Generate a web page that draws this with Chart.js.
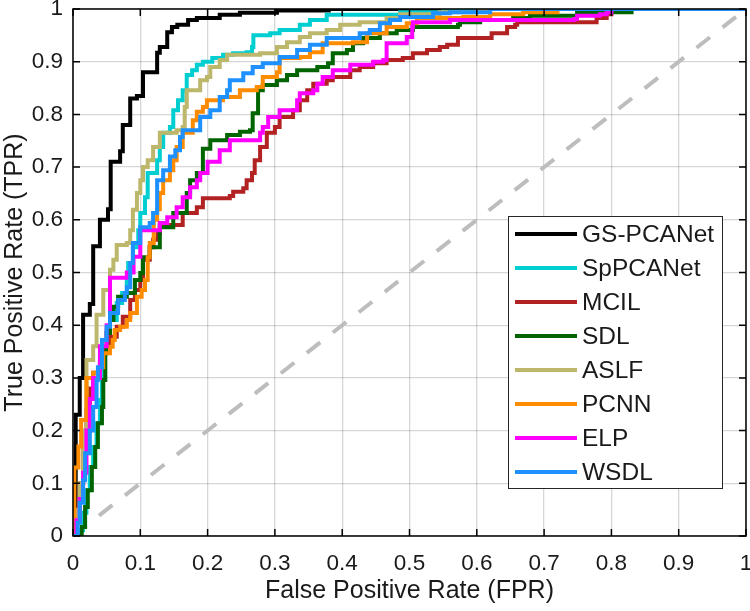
<!DOCTYPE html>
<html>
<head>
<meta charset="utf-8">
<script src="https://cdn.jsdelivr.net/npm/chart.js@4.4.1/dist/chart.umd.min.js"></script>
<style>
  html, body { margin: 0; padding: 0; background: #fff; }
</style>
</head>
<body>
<canvas id="roc" width="750" height="611"></canvas>
<script>
// ROC curves, values (FPR on x, TPR on y)
const methods = ["GS-PCANet", "SpPCANet", "MCIL", "SDL", "ASLF", "PCNN", "ELP", "WSDL"];
const colors = ["#000000", "#00ced1", "#b22222", "#006400", "#bdb76b", "#ff8c00", "#ff00ff", "#1e90ff"];
const axisTicks = [0, 0.1, 0.2, 0.3, 0.4, 0.5, 0.6, 0.7, 0.8, 0.9, 1];

const gsFpr = [0, 0.004, 0.01, 0.015, 0.025, 0.03, 0.04, 0.052, 0.056, 0.07, 0.074, 0.085, 0.095, 0.104, 0.125, 0.129, 0.14, 0.147, 0.155, 0.171, 0.184, 0.218, 0.248, 0.303, 0.38, 1];
const gsTpr = [0, 0.23, 0.30, 0.42, 0.44, 0.55, 0.60, 0.62, 0.71, 0.73, 0.78, 0.83, 0.835, 0.88, 0.917, 0.928, 0.956, 0.966, 0.97, 0.979, 0.983, 0.989, 0.993, 0.997, 1, 1];

const spFpr = [0, 0.007, 0.015, 0.02, 0.025, 0.03, 0.035, 0.04, 0.043, 0.045, 0.05, 0.055, 0.065, 0.073, 0.08, 0.082, 0.089, 0.097, 0.1, 0.107, 0.111, 0.125, 0.129, 0.134, 0.144, 0.149, 0.156, 0.163, 0.169, 0.177, 0.184, 0.193, 0.207, 0.223, 0.238, 0.258, 0.266, 0.268, 0.293, 0.307, 0.337, 0.352, 0.377, 0.486, 0.55, 1];
const spTpr = [0, 0.011, 0.044, 0.087, 0.131, 0.169, 0.214, 0.258, 0.32, 0.359, 0.39, 0.41, 0.442, 0.461, 0.486, 0.518, 0.548, 0.58, 0.613, 0.643, 0.689, 0.713, 0.738, 0.765, 0.776, 0.808, 0.827, 0.846, 0.875, 0.884, 0.894, 0.9, 0.907, 0.913, 0.916, 0.918, 0.928, 0.95, 0.954, 0.96, 0.97, 0.979, 0.989, 0.994, 1, 1];

const mcFpr = [0, 0.005, 0.01, 0.015, 0.02, 0.025, 0.03, 0.04, 0.045, 0.055, 0.065, 0.074, 0.085, 0.092, 0.1, 0.104, 0.114, 0.119, 0.126, 0.129, 0.159, 0.163, 0.184, 0.193, 0.233, 0.238, 0.253, 0.258, 0.266, 0.27, 0.278, 0.288, 0.3, 0.307, 0.327, 0.337, 0.348, 0.357, 0.377, 0.386, 0.412, 0.426, 0.446, 0.466, 0.49, 0.505, 0.526, 0.545, 0.556, 0.572, 0.622, 0.645, 0.657, 0.66, 0.778, 0.793, 0.8, 1];
const mcTpr = [0, 0.05, 0.10, 0.17, 0.24, 0.28, 0.31, 0.33, 0.353, 0.378, 0.397, 0.416, 0.448, 0.467, 0.486, 0.524, 0.548, 0.562, 0.575, 0.59, 0.59, 0.613, 0.624, 0.641, 0.645, 0.653, 0.66, 0.675, 0.689, 0.713, 0.738, 0.765, 0.776, 0.795, 0.808, 0.827, 0.846, 0.858, 0.865, 0.871, 0.884, 0.89, 0.897, 0.903, 0.907, 0.916, 0.922, 0.928, 0.932, 0.945, 0.954, 0.966, 0.97, 0.975, 0.983, 0.99, 1, 1];

const sdFpr = [0, 0.013, 0.018, 0.022, 0.028, 0.033, 0.037, 0.043, 0.045, 0.048, 0.05, 0.055, 0.06, 0.067, 0.08, 0.092, 0.1, 0.104, 0.114, 0.129, 0.149, 0.169, 0.174, 0.184, 0.193, 0.204, 0.229, 0.248, 0.263, 0.267, 0.275, 0.282, 0.303, 0.318, 0.333, 0.363, 0.379, 0.386, 0.407, 0.416, 0.431, 0.456, 0.481, 0.505, 0.572, 0.575, 0.605, 0.654, 0.679, 0.749, 0.83, 1];
const sdTpr = [0, 0.017, 0.055, 0.087, 0.131, 0.169, 0.214, 0.245, 0.296, 0.347, 0.385, 0.41, 0.435, 0.454, 0.461, 0.486, 0.499, 0.529, 0.548, 0.586, 0.613, 0.651, 0.675, 0.689, 0.735, 0.751, 0.761, 0.767, 0.77, 0.802, 0.846, 0.856, 0.865, 0.875, 0.884, 0.89, 0.897, 0.916, 0.922, 0.935, 0.945, 0.954, 0.96, 0.966, 0.97, 0.975, 0.979, 0.983, 0.987, 0.994, 1, 1];

const asFpr = [0, 0.005, 0.01, 0.015, 0.02, 0.03, 0.035, 0.045, 0.055, 0.06, 0.065, 0.08, 0.085, 0.089, 0.095, 0.1, 0.104, 0.111, 0.119, 0.129, 0.154, 0.163, 0.166, 0.169, 0.189, 0.199, 0.204, 0.218, 0.229, 0.278, 0.303, 0.318, 0.337, 0.352, 0.377, 0.397, 0.426, 0.466, 0.486, 0.545, 0.6, 1];
const asTpr = [0, 0.05, 0.10, 0.20, 0.334, 0.36, 0.42, 0.467, 0.505, 0.524, 0.552, 0.556, 0.58, 0.619, 0.651, 0.675, 0.70, 0.713, 0.738, 0.765, 0.77, 0.776, 0.814, 0.846, 0.865, 0.871, 0.89, 0.903, 0.913, 0.916, 0.928, 0.937, 0.947, 0.954, 0.96, 0.97, 0.975, 0.983, 0.99, 0.994, 1, 1];

const pcFpr = [0, 0.002, 0.008, 0.012, 0.02, 0.03, 0.04, 0.045, 0.055, 0.059, 0.062, 0.07, 0.08, 0.085, 0.095, 0.102, 0.107, 0.111, 0.114, 0.12, 0.125, 0.129, 0.134, 0.144, 0.149, 0.154, 0.163, 0.178, 0.184, 0.193, 0.199, 0.223, 0.248, 0.273, 0.282, 0.303, 0.307, 0.337, 0.352, 0.371, 0.416, 0.437, 0.466, 0.496, 0.511, 0.58, 0.62, 0.669, 0.72, 1];
const pcTpr = [0, 0.13, 0.17, 0.22, 0.30, 0.31, 0.32, 0.347, 0.359, 0.372, 0.391, 0.397, 0.41, 0.423, 0.454, 0.467, 0.486, 0.529, 0.556, 0.60, 0.62, 0.651, 0.675, 0.694, 0.713, 0.738, 0.765, 0.789, 0.805, 0.814, 0.827, 0.833, 0.846, 0.852, 0.871, 0.88, 0.907, 0.909, 0.918, 0.935, 0.937, 0.954, 0.966, 0.973, 0.983, 0.985, 0.99, 0.994, 1, 1];

const elFpr = [0, 0.005, 0.01, 0.015, 0.02, 0.025, 0.03, 0.04, 0.05, 0.055, 0.08, 0.09, 0.1, 0.129, 0.14, 0.154, 0.163, 0.174, 0.184, 0.189, 0.2, 0.218, 0.233, 0.278, 0.282, 0.29, 0.307, 0.333, 0.337, 0.357, 0.363, 0.371, 0.386, 0.412, 0.446, 0.461, 0.466, 0.496, 0.504, 0.505, 0.56, 0.745, 0.749, 0.783, 0.793, 0.8, 1];
const elTpr = [0, 0.03, 0.07, 0.12, 0.20, 0.26, 0.30, 0.36, 0.40, 0.49, 0.50, 0.53, 0.58, 0.594, 0.605, 0.624, 0.643, 0.662, 0.675, 0.689, 0.71, 0.732, 0.751, 0.765, 0.776, 0.795, 0.808, 0.827, 0.84, 0.846, 0.858, 0.871, 0.884, 0.894, 0.90, 0.903, 0.935, 0.947, 0.966, 0.975, 0.979, 0.981, 0.987, 0.99, 0.994, 1, 1];

const wsFpr = [0, 0.007, 0.01, 0.015, 0.018, 0.025, 0.03, 0.035, 0.037, 0.043, 0.05, 0.055, 0.067, 0.077, 0.08, 0.085, 0.089, 0.1, 0.114, 0.119, 0.125, 0.134, 0.144, 0.152, 0.159, 0.163, 0.189, 0.204, 0.218, 0.229, 0.233, 0.253, 0.267, 0.282, 0.307, 0.333, 0.352, 0.377, 0.426, 0.441, 0.456, 0.471, 0.486, 0.535, 0.56, 0.62, 1];
const wsTpr = [0, 0.025, 0.063, 0.106, 0.157, 0.20, 0.245, 0.296, 0.32, 0.372, 0.397, 0.423, 0.448, 0.461, 0.472, 0.518, 0.556, 0.586, 0.594, 0.613, 0.675, 0.694, 0.72, 0.732, 0.757, 0.77, 0.795, 0.808, 0.833, 0.846, 0.865, 0.878, 0.89, 0.897, 0.909, 0.922, 0.932, 0.945, 0.954, 0.96, 0.973, 0.979, 0.985, 0.992, 0.994, 1, 1];

const chanceFpr = [0, 1];
const chanceTpr = [0, 1];

const fprList = [gsFpr, spFpr, mcFpr, sdFpr, asFpr, pcFpr, elFpr, wsFpr];
const tprList = [gsTpr, spTpr, mcTpr, sdTpr, asTpr, pcTpr, elTpr, wsTpr];

function toPoints(xs, ys) {
    return xs.map((x, i) => ({ x: x, y: ys[i] }));
}

const FONT = "'Liberation Sans', Arial, Helvetica, sans-serif";
const TEXT = "#1a1a1a";

const datasets = methods.map((name, i) => ({
    label: name,
    data: toPoints(fprList[i], tprList[i]),
    borderColor: colors[i],
    backgroundColor: colors[i],
    borderWidth: 4,
    pointRadius: 0,
    stepped: 'before',
    fill: false,
    order: methods.length - 1 - i   // later series on top, like plot() order
}));

datasets.push({
    label: "chance",
    data: toPoints(chanceFpr, chanceTpr),
    borderColor: "#bdbdbd",
    borderWidth: 4,
    borderDash: [17, 16],
    pointRadius: 0,
    fill: false,
    order: 20
});

// box, inward tick marks and the legend (matlab style)
const frame = {
    id: 'frame',
    afterDatasetsDraw(chart) {
        const ctx = chart.ctx;
        const a = chart.chartArea;
        const xs = chart.scales.x, ys = chart.scales.y;
        ctx.save();
        ctx.strokeStyle = "#000";
        ctx.lineWidth = 1.5;
        ctx.strokeRect(a.left, a.top, a.right - a.left, a.bottom - a.top);
        const tl = 7;
        ctx.beginPath();
        axisTicks.forEach(v => {
            const px = xs.getPixelForValue(v);
            ctx.moveTo(px, a.bottom); ctx.lineTo(px, a.bottom - tl);
            ctx.moveTo(px, a.top); ctx.lineTo(px, a.top + tl);
            const py = ys.getPixelForValue(v);
            ctx.moveTo(a.left, py); ctx.lineTo(a.left + tl, py);
            ctx.moveTo(a.right, py); ctx.lineTo(a.right - tl, py);
        });
        ctx.stroke();

        // legend
        const box = { left: 508, top: 216, right: 722, bottom: 488 };
        ctx.fillStyle = "#fff";
        ctx.fillRect(box.left, box.top, box.right - box.left, box.bottom - box.top);
        ctx.lineWidth = 1;
        ctx.strokeStyle = "#262626";
        ctx.strokeRect(box.left + 0.5, box.top + 0.5, box.right - box.left, box.bottom - box.top);
        const rowH = (box.bottom - box.top) / methods.length;
        ctx.font = "24.5px " + FONT;
        ctx.textBaseline = "middle";
        ctx.textAlign = "left";
        methods.forEach((name, i) => {
            const cy = box.top + rowH * (i + 0.5) + 1;
            ctx.strokeStyle = colors[i];
            ctx.lineWidth = 4;
            ctx.beginPath();
            ctx.moveTo(box.left + 7, cy);
            ctx.lineTo(box.left + 69, cy);
            ctx.stroke();
            ctx.fillStyle = TEXT;
            ctx.fillText(name, box.left + 74, cy + 1);
        });
        ctx.restore();
    }
};

new Chart(document.getElementById("roc"), {
    type: 'line',
    data: { datasets: datasets },
    options: {
        responsive: false,
        animation: false,
        devicePixelRatio: 1,
        layout: { padding: { top: 9, right: 4, left: 0, bottom: 0 } },
        plugins: {
            legend: { display: false },
            tooltip: { enabled: false }
        },
        scales: {
            x: {
                type: 'linear',
                min: 0,
                max: 1,
                afterFit: s => { s.height = 75; s.paddingLeft = 0; s.paddingRight = 0; },
                afterBuildTicks: s => { s.ticks = axisTicks.map(v => ({ value: v })); },
                ticks: {
                    padding: 14,
                    color: TEXT,
                    font: { family: FONT, size: 22.5 },
                    maxRotation: 0,
                    callback: v => String(+v.toFixed(1))
                },
                grid: { color: "rgba(0,0,0,0.16)", lineWidth: 1.3, drawTicks: false },
                border: { display: false },
                title: {
                    display: true,
                    text: "False Positive Rate (FPR)",
                    color: TEXT,
                    font: { family: FONT, size: 25 },
                    padding: { top: 0, bottom: 5 }
                }
            },
            y: {
                type: 'linear',
                min: 0,
                max: 1,
                afterFit: s => { s.width = 73; s.paddingTop = 0; s.paddingBottom = 0; },
                afterBuildTicks: s => { s.ticks = axisTicks.map(v => ({ value: v })); },
                ticks: {
                    padding: 10,
                    color: TEXT,
                    font: { family: FONT, size: 22.5 },
                    callback: v => String(+v.toFixed(1))
                },
                grid: { color: "rgba(0,0,0,0.16)", lineWidth: 1.3, drawTicks: false },
                border: { display: false },
                title: {
                    display: true,
                    text: "True Positive Rate (TPR)",
                    color: TEXT,
                    font: { family: FONT, size: 25 },
                    padding: { top: 0, bottom: 0 }
                }
            }
        }
    },
    plugins: [frame]
});
</script>
</body>
</html>
